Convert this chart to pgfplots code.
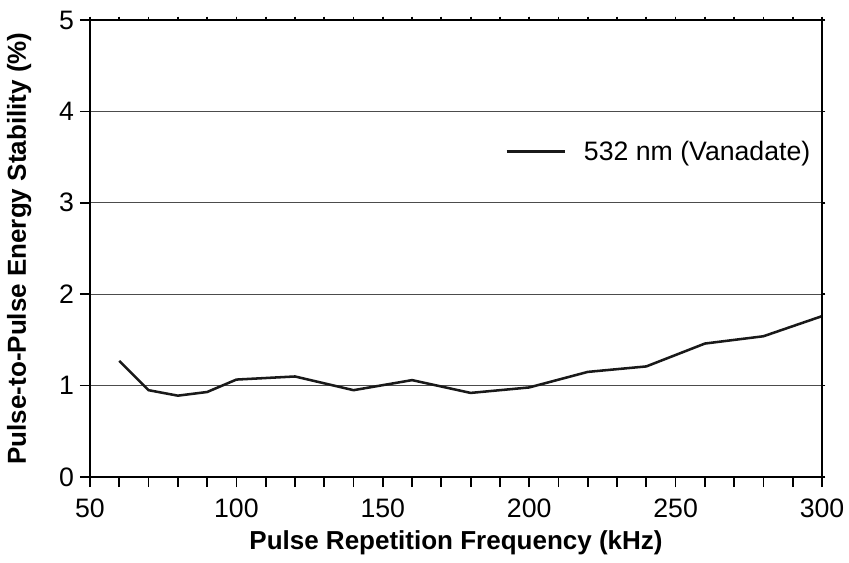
\documentclass[border=0pt]{standalone}
\usepackage{fontspec}
\setmainfont{Liberation Sans}
\usepackage{pgfplots}
\pgfplotsset{compat=1.18}

\begin{document}
\begin{tikzpicture}
\begin{axis}[
  name=main,
  scale only axis,
  width=549pt, height=342.75pt,
  xmin=50, xmax=300,
  ymin=0, ymax=5,
  xtick={50,100,...,300},
  minor xtick={60,70,...,290},
  ytick={0,1,...,5},
  tick pos=left,
  tick align=outside,
  major tick length=7.5pt,
  minor tick length=7.5pt,
  every tick/.style={black, line width=1.3pt},
  axis line style={line width=1.6pt},
  ymajorgrids,
  major grid style={black!70, line width=0.9pt},
  /pgf/number format/assume math mode=true,
  ticklabel style={font=\fontsize{20}{22}\selectfont},
  xticklabel style={yshift=-5pt},
  yticklabel style={xshift=-1pt},
  label style={font=\bfseries\fontsize{19.5}{22}\selectfont},
  xlabel={Pulse Repetition Frequency (kHz)},
  ylabel={Pulse-to-Pulse Energy Stability (\%)},
  xlabel style={at={(rel axis cs:0.5,0)}, anchor=center, yshift=-49pt},
  ylabel style={at={(rel axis cs:0,0.5)}, anchor=center, yshift=53pt},
  legend style={draw=none, fill=none, at={(rel axis cs:0.988,0.712)}, anchor=east,
    font=\fontsize{20}{22}\selectfont, inner sep=0pt,
    legend cell align=left},
  legend image code/.code={\draw[#1] (0pt,0pt) -- (43.5pt,0pt);
    \draw[draw=none] (0pt,0pt) -- (56pt,0pt);},
]
\addplot[black!90, line width=1.9pt] coordinates {
  (60,1.27) (70,0.95) (80,0.89) (90,0.93) (100,1.066) (120,1.10)
  (140,0.95) (160,1.06) (180,0.92) (200,0.98) (220,1.15) (240,1.21)
  (260,1.46) (280,1.54) (300,1.76)
};
\addlegendentry{532 nm (Vanadate)}
\end{axis}
\begin{axis}[
  scale only axis,
  width=549pt, height=342.75pt,
  xmin=50, xmax=300,
  ymin=0, ymax=5,
  xtick={50,100,...,300},
  minor xtick={60,70,...,290},
  ytick={0,1,...,5},
  xticklabels={}, yticklabels={},
  tick pos=right,
  tick align=outside,
  major tick length=2.5pt,
  minor tick length=2.5pt,
  every tick/.style={black, line width=1.3pt},
  axis line style={line width=1.6pt},
]
\end{axis}
\pgfresetboundingbox
\path (main.south west) ++(-67.5pt,-63.75pt) rectangle ++(636.75pt,421.5pt);
\end{tikzpicture}
\end{document}
